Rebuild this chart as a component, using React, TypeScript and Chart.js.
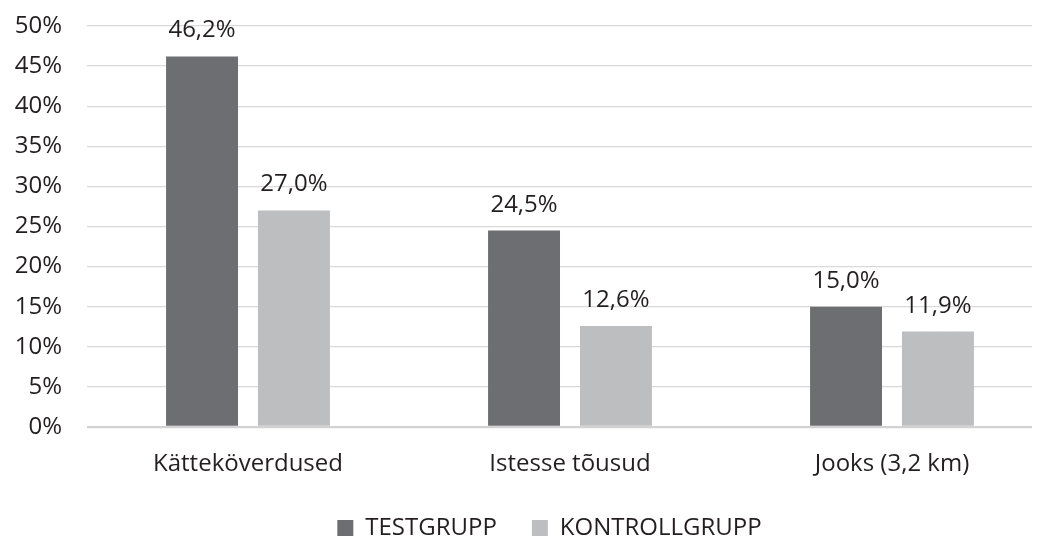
import React, { useEffect, useRef } from "react";
import { Chart, registerables } from "chart.js";

Chart.register(...registerables);

const categories = ["Kätteköverdused", "Istesse tõusud", "Jooks (3,2 km)"];
const seriesNames = ["TESTGRUPP", "KONTROLLGRUPP"];
const testValues = [46.2, 24.5, 15.0];
const controlValues = [27.0, 12.6, 11.9];
const yTicks = [0, 5, 10, 15, 20, 25, 30, 35, 40, 45, 50];

const FONT = "'Open Sans', 'Noto Sans', sans-serif";
const TEXT = "#231f20";

const fmt = (v: number) => v.toFixed(1).replace(".", ",") + "%";

const valueLabels = {
  id: "valueLabels",
  afterDatasetsDraw(chart: any) {
    const ctx = chart.ctx;
    ctx.save();
    ctx.font = `24px ${FONT}`;
    ctx.fillStyle = TEXT;
    ctx.textAlign = "center";
    ctx.textBaseline = "alphabetic";
    chart.data.datasets.forEach((ds: any, di: number) => {
      const meta = chart.getDatasetMeta(di);
      meta.data.forEach((bar: any, i: number) => {
        ctx.fillText(fmt(ds.data[i]), bar.x, bar.y - 19);
      });
    });
    ctx.restore();
  },
};

const legendShift = {
  id: "legendShift",
  afterLayout(chart: any) {
    if (chart.legend) chart.legend.left += 38;
  },
};

export default function App() {
  const ref = useRef<HTMLCanvasElement>(null);
  useEffect(() => {
    document.documentElement.style.overflow = "hidden";
    document.body.style.overflow = "hidden";
    if (!ref.current) return;
    const chart = new Chart(ref.current, {
      type: "bar",
      data: {
        labels: categories,
        datasets: [
          {
            label: seriesNames[0],
            data: testValues,
            backgroundColor: "#6d6e71",
            categoryPercentage: 0.571,
            barPercentage: 0.7826,
          },
          {
            label: seriesNames[1],
            data: controlValues,
            backgroundColor: "#bcbec0",
            categoryPercentage: 0.571,
            barPercentage: 0.7826,
          },
        ],
      },
      options: {
        responsive: false,
        animation: false,
        layout: { padding: { top: 18, right: 1, left: 0, bottom: 0 } },
        plugins: {
          tooltip: { enabled: false },
          legend: {
            position: "bottom",
            labels: {
              boxWidth: 16,
              boxHeight: 16,
              padding: 35,
              color: TEXT,
              font: { family: FONT, size: 24 },
            },
          },
        },
        scales: {
          x: {
            afterFit: (scale: any) => {
              scale.height = 54;
            },
            grid: { display: false, drawTicks: false },
            border: { display: false },
            ticks: {
              color: TEXT,
              padding: 23,
              font: { family: FONT, size: 24 },
            },
          },
          y: {
            min: 0,
            max: 50,
            afterFit: (scale: any) => {
              scale.width = 79;
              scale.paddingTop = 0;
              scale.paddingBottom = 0;
            },
            afterBuildTicks: (scale: any) => {
              scale.ticks = yTicks.map((v) => ({ value: v }));
            },
            grid: {
              color: (c: any) => (c.tick && c.tick.value === 0 ? "#d2d2d2" : "#d9d9d9"),
              lineWidth: (c: any) => (c.tick && c.tick.value === 0 ? 2.3 : 1.3),
              drawTicks: false,
            },
            border: { display: false },
            ticks: {
              color: TEXT,
              padding: 25,
              font: { family: FONT, size: 24 },
              callback: (v: any) => v + "%",
            },
          },
        },
      },
      plugins: [valueLabels, legendShift],
    });
    return () => chart.destroy();
  }, []);
  return (
    <div style={{ width: 1046, height: 532, overflow: "hidden", position: "relative" }}>
      <canvas ref={ref} width={1046} height={542} style={{ display: "block" }} />
    </div>
  );
}
